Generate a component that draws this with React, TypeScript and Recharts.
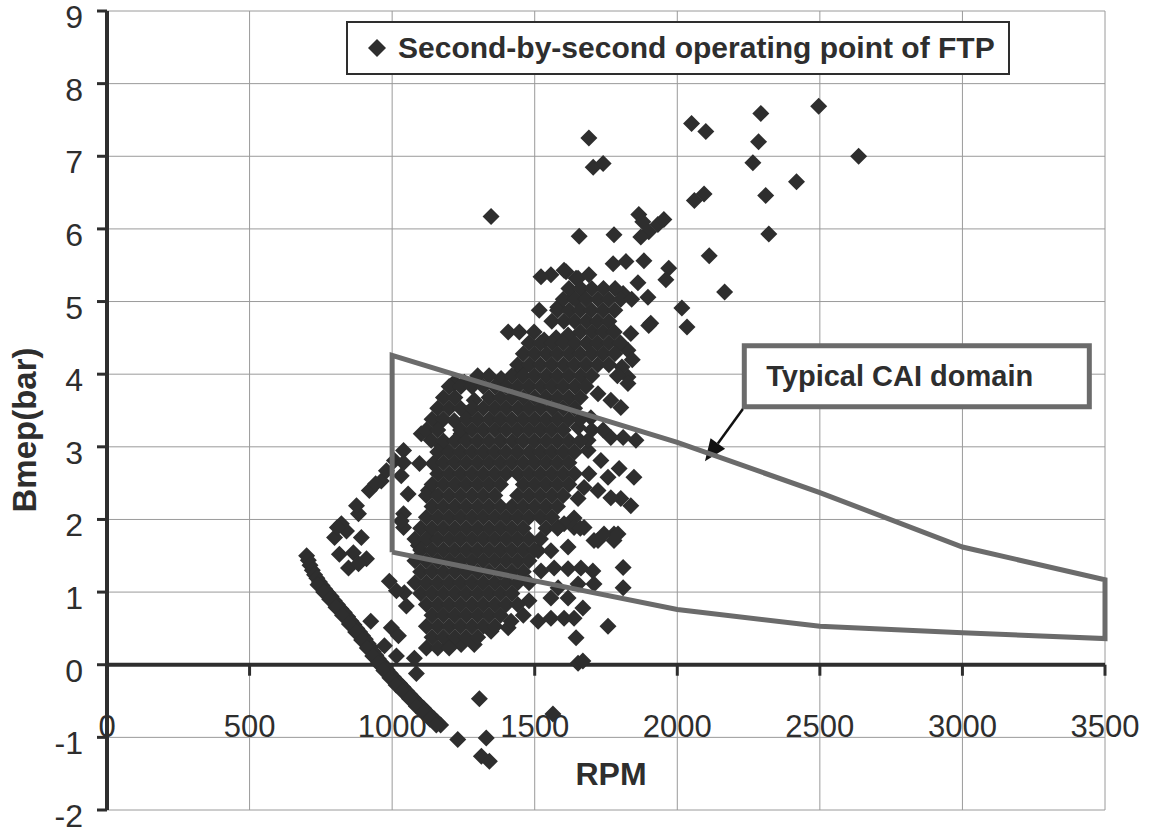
import React from "react";
import {
  ScatterChart,
  Scatter,
  XAxis,
  YAxis,
  CartesianGrid,
  ReferenceLine,
  ReferenceArea,
  Legend,
} from "recharts";

const WIDTH = 1151;
const HEIGHT = 833;
const MARGIN = { top: 11, right: 46, bottom: 22, left: 106 };
const PLOT_H = HEIGHT - MARGIN.top - MARGIN.bottom - 1;

const X_TICKS = [0, 500, 1000, 1500, 2000, 2500, 3000, 3500];
const Y_TICKS = [-2, -1, 0, 1, 2, 3, 4, 5, 6, 7, 8, 9];
const Y_MIN = -2;
const Y_MAX = 9;
// pixel row of the bmep = 0 line, where the RPM axis sits
const ZERO_Y = MARGIN.top + (PLOT_H * Y_MAX) / (Y_MAX - Y_MIN);

const INK = "#2e2e2e";
const CAI_GREY = "#6b6b6b";
const FONT = '"Liberation Sans", Arial, Helvetica, sans-serif';

// closed-throttle motoring points, [rpm, bmep]
const motoringBand: [number, number][] = [
  [700, 1.5], [706, 1.44], [712, 1.37], [720, 1.3], [728, 1.24], [736, 1.19],
  [745, 1.14], [754, 1.09], [764, 1.04], [774, 0.99], [786, 0.94], [797, 0.88],
  [808, 0.83], [820, 0.77], [832, 0.72], [844, 0.66], [856, 0.6], [866, 0.55],
  [876, 0.5], [886, 0.45], [896, 0.4], [906, 0.35], [916, 0.29], [925, 0.24],
  [934, 0.18], [943, 0.13], [952, 0.08], [962, 0.03], [972, -0.02], [982, -0.07],
  [993, -0.12], [1004, -0.17], [1015, -0.22], [1026, -0.26], [1038, -0.31],
  [1050, -0.36], [1062, -0.41], [1074, -0.46], [1086, -0.51], [1098, -0.56],
  [1110, -0.6], [1122, -0.65], [1134, -0.7], [1146, -0.74], [1158, -0.79],
  [1170, -0.83],
  [740, 1.1], [760, 1.0], [781, 0.9], [803, 0.79], [826, 0.68], [850, 0.56],
  [872, 0.45], [893, 0.34], [913, 0.23], [932, 0.12], [951, 0.02], [971, -0.08],
  [992, -0.18], [1014, -0.28], [1037, -0.37], [1061, -0.47], [1085, -0.57],
  [1109, -0.66], [1133, -0.75], [1155, -0.83],
];

// scattered operating points outside the dense core, [rpm, bmep]
const outerPoints: [number, number][] = [
  [1690, 7.25], [1705, 6.85], [1740, 6.9], [2050, 7.45], [2100, 7.34], [2293, 7.59],
  [2496, 7.69], [2285, 7.2], [2265, 6.91], [2636, 7.0], [2418, 6.65], [2060, 6.39],
  [2094, 6.48], [2310, 6.46], [2321, 5.93], [2112, 5.63], [2166, 5.13], [1347, 6.17],
  [1865, 6.2], [1879, 6.1], [1900, 5.96], [1932, 6.06], [1953, 6.13], [1872, 5.89],
  [1656, 5.9], [1778, 5.92], [1883, 5.56], [1775, 5.52], [1820, 5.55], [1610, 5.41],
  [1970, 5.46], [1862, 5.26], [1960, 5.3], [2016, 4.91], [2034, 4.65], [1907, 4.7],
  [1897, 5.06], [1810, 5.11], [1645, 5.32], [1557, 5.37], [1522, 5.34], [1603, 5.43],
  [1652, 5.32], [1690, 5.37], [1516, 4.88], [1581, 4.92], [1634, 5.06], [1407, 4.58],
  [1446, 4.58], [1498, 4.58], [1533, 4.47], [1575, 4.5], [1617, 4.54], [1837, 4.56],
  [1827, 4.33], [1827, 3.96], [1452, 4.05], [1218, 3.89], [1253, 3.89], [1382, 3.94],
  [1900, 4.67], [1800, 4.43], [1842, 4.2], [1806, 4.1], [1790, 3.98],
  [1687, 2.95], [1732, 2.81], [1796, 2.7], [1848, 2.58], [1757, 2.58], [1837, 2.19],
  [1802, 2.29], [1767, 2.3], [1722, 2.4], [1673, 2.44], [1652, 2.29], [1638, 2.02],
  [1603, 1.94], [1778, 1.8], [1855, 3.09], [1810, 3.13], [1767, 3.13], [1802, 3.54],
  [1767, 3.64], [1722, 3.73], [1827, 3.87], [1697, 3.4], [1652, 3.27], [1687, 3.09],
  [1582, 1.89], [1638, 1.89], [1673, 1.89], [1708, 1.71], [1743, 1.8], [1792, 1.8],
  [1512, 1.57], [1557, 1.57], [1617, 1.62], [1722, 1.71], [1778, 1.71],
  [1522, 1.29], [1568, 1.33], [1617, 1.32], [1662, 1.33], [1704, 1.29], [1708, 1.11],
  [1582, 1.06], [1557, 0.92], [1617, 0.92], [1652, 1.11], [1810, 1.06], [1810, 1.34],
  [1480, 0.88], [1512, 0.6], [1557, 0.64], [1603, 0.64], [1638, 0.64], [1669, 0.78],
  [1757, 0.53], [1645, 0.37], [1652, 0.02], [1669, 0.05],
  [1407, 0.51], [1417, 0.6], [1347, 0.46], [1288, 0.28], [1242, 0.28], [1197, 0.26],
  [822, 1.94], [882, 2.08], [920, 2.4], [962, 2.53], [980, 2.67], [892, 1.75],
  [798, 1.75], [840, 1.84], [815, 1.52], [864, 1.54], [847, 1.33], [910, 1.46],
  [882, 1.39], [808, 1.89], [875, 2.19], [942, 2.49], [1008, 2.81],
  [1040, 2.95], [1040, 2.78], [1032, 2.6], [1096, 2.77], [1144, 2.77], [1056, 2.35],
  [1127, 2.4], [1040, 2.08], [1040, 1.89], [1102, 3.18], [1137, 3.09], [1172, 3.02],
  [1162, 3.32], [1218, 3.36], [1260, 3.46], [1288, 3.64], [1242, 3.18], [1218, 3.87],
  [1032, 1.98], [1092, 1.64], [1127, 1.75],
  [990, 1.15], [1043, 0.99], [1015, 1.02], [1050, 0.81], [997, 0.51], [1022, 0.4],
  [973, 0.26], [1015, 0.12], [1078, 0.09], [1085, -0.12], [925, 0.6],
  [1230, -1.03], [1306, -0.47], [1330, -1.01], [1313, -1.26], [1341, -1.33],
  [1564, -0.68],
];

// dense core of the cycle, one row per bmep level: [bmep, rpm values]
const coreRows: [number, number[]][] = [
  [5.18, [1620, 1662, 1700, 1741, 1782]],
  [5.03, [1600, 1642, 1680, 1721, 1760, 1802, 1840]],
  [4.88, [1580, 1621, 1660, 1699, 1740, 1781]],
  [4.73, [1560, 1602, 1640, 1681, 1720, 1760]],
  [4.58, [1660, 1701, 1740, 1779]],
  [4.43, [1480, 1520, 1561, 1600, 1640, 1682, 1720, 1760, 1800]],
  [4.28, [1460, 1500, 1541, 1580, 1621, 1660, 1700, 1740, 1781]],
  [4.13, [1440, 1481, 1520, 1560, 1601, 1640, 1680, 1721, 1760]],
  [3.98, [1300, 1340, 1420, 1460, 1500, 1541, 1580, 1620, 1661, 1700]],
  [3.83, [1200, 1241, 1280, 1320, 1361, 1400, 1440, 1480, 1521, 1560, 1600, 1641, 1680]],
  [3.68, [1180, 1220, 1340, 1380, 1420, 1461, 1500, 1540, 1580, 1620, 1660]],
  [3.53, [1160, 1200, 1240, 1281, 1320, 1360, 1400, 1441, 1480, 1520, 1561, 1600, 1640]],
  [3.38, [1140, 1180, 1260, 1300, 1341, 1380, 1420, 1460, 1500, 1540, 1580, 1620, 1660]],
  [3.23, [1120, 1160, 1240, 1280, 1320, 1361, 1400, 1440, 1480, 1520, 1560, 1600, 1700, 1740]],
  [3.08, [1180, 1220, 1260, 1300, 1340, 1380, 1421, 1460, 1500, 1540, 1580, 1620, 1660]],
  [2.93, [1160, 1200, 1240, 1280, 1320, 1360, 1400, 1440, 1481, 1520, 1560, 1600, 1640]],
  [2.78, [1180, 1220, 1260, 1300, 1340, 1380, 1420, 1460, 1500, 1540, 1580, 1620]],
  [2.63, [1160, 1200, 1240, 1280, 1320, 1360, 1400, 1440, 1480, 1520, 1560, 1600, 1640, 1690]],
  [2.48, [1140, 1180, 1220, 1260, 1300, 1340, 1380, 1460, 1500, 1540, 1580, 1620]],
  [2.33, [1120, 1160, 1200, 1240, 1280, 1320, 1360, 1440, 1480, 1520, 1560, 1600]],
  [2.18, [1140, 1180, 1220, 1260, 1300, 1340, 1380, 1420, 1460, 1500, 1540, 1580]],
  [2.03, [1120, 1160, 1200, 1240, 1280, 1320, 1360, 1400, 1440, 1480, 1520, 1560]],
  [1.88, [1100, 1140, 1180, 1220, 1260, 1300, 1340, 1380, 1420, 1460, 1540, 1580, 1660]],
  [1.73, [1080, 1120, 1160, 1200, 1240, 1280, 1320, 1360, 1400, 1440, 1480, 1520]],
  [1.58, [1100, 1140, 1180, 1220, 1260, 1300, 1340, 1380, 1420, 1460, 1500]],
  [1.43, [1080, 1120, 1160, 1200, 1240, 1280, 1320, 1360, 1400, 1440, 1480]],
  [1.28, [1100, 1140, 1180, 1220, 1260, 1300, 1340, 1380, 1420, 1460]],
  [1.13, [1080, 1120, 1160, 1200, 1240, 1280, 1320, 1360, 1400, 1440, 1480]],
  [0.98, [1100, 1140, 1180, 1220, 1260, 1300, 1340, 1380, 1420]],
  [0.83, [1120, 1160, 1200, 1240, 1280, 1320, 1360, 1400, 1440]],
  [0.68, [1140, 1180, 1220, 1260, 1300, 1340, 1380, 1460]],
  [0.53, [1120, 1160, 1200, 1240, 1280, 1320, 1360]],
  [0.38, [1140, 1180, 1220, 1260, 1300]],
  [0.23, [1120, 1160, 1200]],
];

// outline of the typical CAI operating domain, closed
const caiRpm = [1000, 1000, 2000, 2500, 3000, 3500, 3500, 3000, 2500, 2000, 1000];
const caiBmep = [1.55, 4.26, 3.06, 2.37, 1.62, 1.17, 0.36, 0.44, 0.53, 0.76, 1.55];

const ftpData = [
  ...motoringBand.map(([rpm, bmep]) => ({ rpm, bmep })),
  ...outerPoints.map(([rpm, bmep]) => ({ rpm, bmep })),
  ...coreRows.flatMap(([bmep, rpms]) => rpms.map((rpm) => ({ rpm, bmep }))),
];
const caiData = caiRpm.map((rpm, i) => ({ rpm, bmep: caiBmep[i] }));

function Diamond({ cx, cy }: any) {
  const r = 8.5;
  return (
    <polygon
      points={`${cx},${cy - r} ${cx + r},${cy} ${cx},${cy + r} ${cx - r},${cy}`}
      fill={INK}
    />
  );
}

function NoMarker() {
  return <g />;
}

function RpmTick({ x, payload }: any) {
  return (
    <g>
      <line x1={x} x2={x} y1={ZERO_Y} y2={ZERO_Y + 11} stroke={INK} strokeWidth={3} />
      <text
        x={x}
        y={ZERO_Y + 72}
        textAnchor="middle"
        fontSize={31}
        fill={INK}
        fontFamily={FONT}
      >
        {payload.value}
      </text>
    </g>
  );
}

function BmepTick({ x, y, payload }: any) {
  return (
    <text x={x} y={y + 17} textAnchor="end" fontSize={32} fill={INK} fontFamily={FONT}>
      {payload.value}
    </text>
  );
}

function Arrow({ x1, y1, x2, y2 }: any) {
  const len = Math.hypot(x2 - x1, y2 - y1) || 1;
  const ux = (x2 - x1) / len;
  const uy = (y2 - y1) / len;
  const headLen = 22;
  const headW = 9;
  const bx = x2 - ux * headLen;
  const by = y2 - uy * headLen;
  return (
    <g>
      <line x1={x1} y1={y1} x2={bx} y2={by} stroke="#111" strokeWidth={2.5} />
      <polygon
        points={`${x2},${y2} ${bx - uy * headW},${by + ux * headW} ${bx + uy * headW},${by - ux * headW}`}
        fill="#111"
      />
    </g>
  );
}

function CaiLabel({ viewBox }: any) {
  if (!viewBox) return null;
  return (
    <text
      x={viewBox.x + 22}
      y={viewBox.y + viewBox.height / 2 + 10}
      fontSize={29}
      fontWeight={700}
      fill={INK}
      fontFamily={FONT}
    >
      Typical CAI domain
    </text>
  );
}

function FtpLegend() {
  return (
    <div
      style={{
        width: 664,
        height: 54,
        boxSizing: "border-box",
        border: `2px solid ${INK}`,
        background: "#fff",
        display: "flex",
        alignItems: "center",
        paddingLeft: 20,
        fontFamily: FONT,
        fontWeight: 700,
        fontSize: 30,
        color: INK,
        whiteSpace: "nowrap",
      }}
    >
      <svg width={18} height={18} style={{ marginRight: 12, flex: "none" }}>
        <polygon points="9,0 18,9 9,18 0,9" fill={INK} />
      </svg>
      <span>Second-by-second operating point of FTP</span>
    </div>
  );
}

export default function App() {
  return (
    <div
      style={{
        position: "absolute",
        left: 0,
        top: 0,
        width: WIDTH,
        height: HEIGHT,
        background: "#fff",
      }}
    >
      <ScatterChart width={WIDTH} height={HEIGHT} margin={MARGIN}>
        <CartesianGrid stroke="#9a9a9a" strokeWidth={1} />
        <XAxis
          type="number"
          dataKey="rpm"
          domain={[0, 3500]}
          ticks={X_TICKS}
          interval={0}
          height={1}
          axisLine={false}
          tickLine={false}
          tick={<RpmTick />}
        />
        <YAxis
          type="number"
          dataKey="bmep"
          domain={[Y_MIN, Y_MAX]}
          ticks={Y_TICKS}
          interval={0}
          width={1}
          axisLine={{ stroke: INK, strokeWidth: 4 }}
          tickLine={{ stroke: INK, strokeWidth: 3 }}
          tickSize={10}
          tickMargin={14}
          tick={<BmepTick />}
        />
        <ReferenceLine y={0} stroke={INK} strokeWidth={4} />
        <Scatter
          name="Second-by-second operating point of FTP"
          data={ftpData}
          shape={<Diamond />}
          isAnimationActive={false}
        />
        <Scatter
          name="CAI domain"
          data={caiData}
          shape={<NoMarker />}
          line={{ stroke: CAI_GREY, strokeWidth: 5, strokeLinejoin: "miter" }}
          lineType="joint"
          legendType="none"
          isAnimationActive={false}
        />
        <ReferenceArea
          x1={2235}
          x2={3445}
          y1={3.55}
          y2={4.39}
          fill="#fff"
          fillOpacity={1}
          stroke={CAI_GREY}
          strokeWidth={5}
          label={<CaiLabel />}
        />
        <ReferenceLine
          segment={[
            { x: 2230, y: 3.52 },
            { x: 2097, y: 2.8 },
          ]}
          shape={<Arrow />}
        />
        <Legend
          layout="horizontal"
          verticalAlign="middle"
          align="center"
          content={<FtpLegend />}
          wrapperStyle={{ left: 346, top: 21, width: 664, height: 54 }}
        />
      </ScatterChart>
      <div
        style={{
          position: "absolute",
          left: 25,
          top: 430,
          transform: "translate(-50%, -50%) rotate(-90deg)",
          fontFamily: FONT,
          fontWeight: 700,
          fontSize: 33,
          color: INK,
          whiteSpace: "nowrap",
        }}
      >
        Bmep(bar)
      </div>
      <div
        style={{
          position: "absolute",
          left: 611,
          top: 774,
          transform: "translate(-50%, -50%)",
          fontFamily: FONT,
          fontWeight: 700,
          fontSize: 32,
          color: INK,
          whiteSpace: "nowrap",
        }}
      >
        RPM
      </div>
    </div>
  );
}
